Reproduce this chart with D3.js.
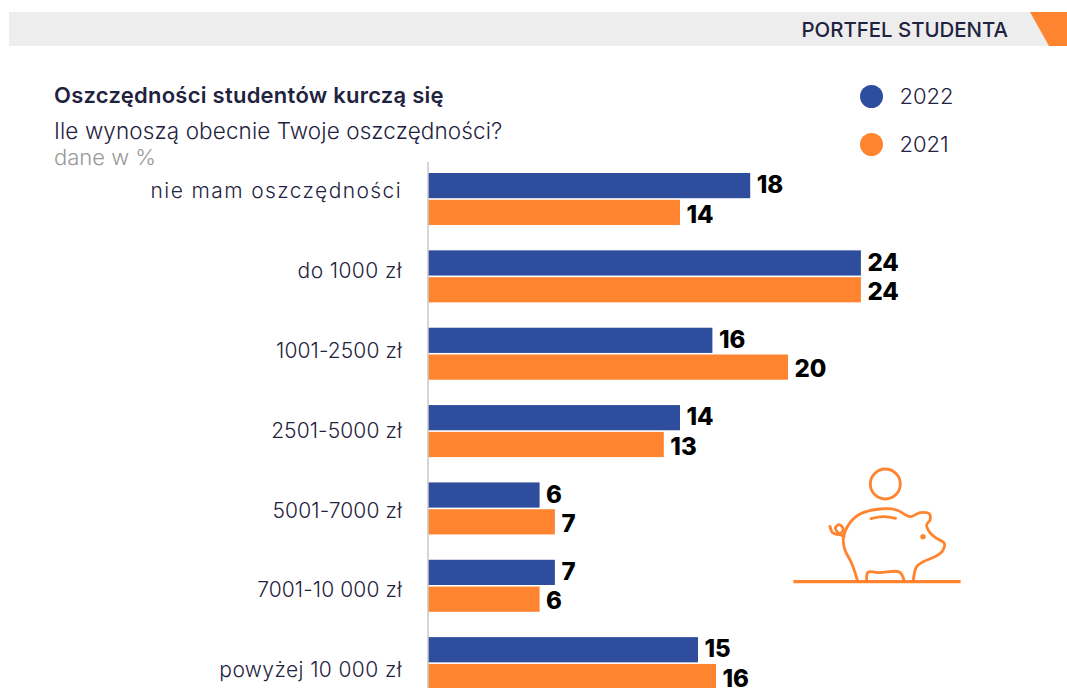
<!DOCTYPE html>
<html>
<head>
<meta charset="utf-8">
<script src="https://cdn.jsdelivr.net/npm/d3@7"></script>
<style>
html, body { margin: 0; padding: 0; background: #fff; overflow: hidden; }
svg { display: block; }
text { font-family: Inter, "Open Sans", sans-serif; }
</style>
</head>
<body>
<div id="chart"></div>
<script>
const categories = ["nie mam oszczędności", "do 1000 zł", "1001-2500 zł", "2501-5000 zł", "5001-7000 zł", "7001-10 000 zł", "powyżej 10 000 zł"];
const years = ["2022", "2021"];
const values2022 = [17.9, 24.05, 15.8, 14, 6.2, 7.05, 15];
const values2021 = [14, 24.05, 20, 13.1, 7.05, 6.2, 16];

const colors = { "2022": "#2e4d9c", "2021": "#ff8430" };
const ink = "#1f2340";

const width = 1067, height = 688;

const svg = d3.select("#chart").append("svg")
    .attr("width", width)
    .attr("height", height);

// header strip
svg.append("rect")
    .attr("x", 9).attr("y", 12)
    .attr("width", width - 9).attr("height", 34)
    .attr("fill", "#ededed");
svg.append("path")
    .attr("d", "M1030,12 L1067,12 L1067,46 L1049,46 Z")
    .attr("fill", "#ff8430");
svg.append("text")
    .attr("x", 1008).attr("y", 37)
    .attr("text-anchor", "end")
    .attr("font-size", 20.4).attr("font-weight", 500)
    .attr("fill", ink)
    .text("PORTFEL STUDENTA");

// titles
svg.append("text")
    .attr("x", 54).attr("y", 103)
    .attr("font-size", 22).attr("font-weight", 600)
    .attr("letter-spacing", "0.25px")
    .attr("fill", ink)
    .text("Oszczędności studentów kurczą się");
svg.append("text")
    .attr("x", 54).attr("y", 139)
    .attr("font-size", 22.5).attr("font-weight", 300)
    .attr("letter-spacing", "0.1px")
    .attr("fill", ink)
    .text("Ile wynoszą obecnie Twoje oszczędności?");
svg.append("text")
    .attr("x", 54).attr("y", 165)
    .attr("font-size", 22).attr("font-weight", 300)
    .attr("fill", "#999")
    .text("dane w %");

// legend
const legendY = d3.scalePoint().domain(years).range([96.5, 144.5]);
const legend = svg.selectAll(".legend")
    .data(years)
    .enter().append("g")
    .attr("class", "legend")
    .attr("transform", d => `translate(0,${legendY(d)})`);
legend.append("circle")
    .attr("cx", 871.5)
    .attr("r", 11.5)
    .attr("fill", d => colors[d]);
legend.append("text")
    .attr("x", 899.5).attr("y", 7.5)
    .attr("font-size", 22).attr("font-weight", 300)
    .attr("fill", ink)
    .text(d => d);

// scales
const x = d3.scaleLinear().domain([0, 24]).range([428, 860]);
const y = d3.scaleBand().domain(categories).range([161, 702.5]);
const yInner = d3.scaleBand().domain(years).range([12, 64]).paddingInner(0.06);
// the category labels sit on their own spacing in the original, not on the bars
const yLabels = d3.scalePoint().domain(categories).range([191, 670]);

// category labels
const axis = svg.append("g")
    .attr("transform", "translate(428,0)")
    .call(d3.axisLeft(yLabels).tickSize(0).tickPadding(26));
axis.select(".domain").remove();
axis.selectAll("text")
    .attr("font-size", 21).attr("font-weight", 300)
    .attr("letter-spacing", d => !/\d/.test(d) ? "1.4px" : /^\d/.test(d) ? "0.1px" : "0.4px")
    .attr("fill", ink);

// bars
const rows = svg.selectAll(".row")
    .data(categories)
    .enter().append("g")
    .attr("class", "row")
    .attr("transform", d => `translate(0,${y(d)})`);

const series = { "2022": values2022, "2021": values2021 };
rows.selectAll("rect")
    .data((d, i) => years.map(yr => ({ year: yr, value: series[yr][i] })))
    .enter().append("rect")
    .attr("x", x(0))
    .attr("y", d => yInner(d.year))
    .attr("width", d => x(d.value) - x(0))
    .attr("height", yInner.bandwidth())
    .attr("fill", d => colors[d.year]);

rows.selectAll(".value")
    .data((d, i) => years.map(yr => ({ year: yr, value: series[yr][i] })))
    .enter().append("text")
    .attr("class", "value")
    .attr("x", d => x(d.value) + 6.5)
    .attr("y", d => yInner(d.year) + yInner.bandwidth() / 2 + (d.year === "2021" ? 1.5 : -1))
    .attr("dy", "0.36em")
    .attr("font-size", 24).attr("font-weight", 800)
    .attr("fill", "#000")
    .text(d => d3.format(".0f")(d.value));

// vertical axis line, on top of the bars
svg.append("line")
    .attr("x1", 428).attr("x2", 428)
    .attr("y1", 162).attr("y2", height)
    .attr("stroke", "#c8c8c8").attr("stroke-width", 1.5);

// piggy bank icon
const pig = svg.append("g")
    .attr("transform", "translate(780,450) scale(0.3333)")
    .attr("fill", "none")
    .attr("stroke", "#ff8430")
    .attr("stroke-width", 8.5)
    .attr("stroke-linecap", "round")
    .attr("stroke-linejoin", "round");
const smooth = d3.line().curve(d3.curveCatmullRom.alpha(0.5));
pig.append("circle").attr("cx", 316).attr("cy", 102).attr("r", 45);
pig.append("path").attr("d", smooth([[232, 390], [215, 340], [195, 300], [190, 265], [205, 225], [240, 192], [300, 177], [350, 180], [390, 200], [420, 188], [448, 191], [450, 210], [440, 225], [450, 248], [470, 265], [493, 280], [488, 302], [465, 320], [430, 335], [410, 350], [400, 390]]));
pig.append("path").attr("d", smooth([[372, 390], [358, 366], [300, 368], [264, 367], [260, 390]]));
pig.append("path").attr("d", smooth([[273, 206], [310, 200], [347, 205]]));
pig.append("path").attr("d", smooth([[150, 229], [158, 248], [178, 253], [190, 238], [178, 224], [166, 234], [176, 250], [192, 260]]));
pig.append("circle").attr("cx", 429).attr("cy", 260).attr("r", 8).attr("fill", "#ff8430").attr("stroke", "none");
pig.append("path").attr("d", "M40,395 L542,395").attr("stroke-width", 10).attr("stroke-linecap", "butt");
</script>
</body>
</html>
